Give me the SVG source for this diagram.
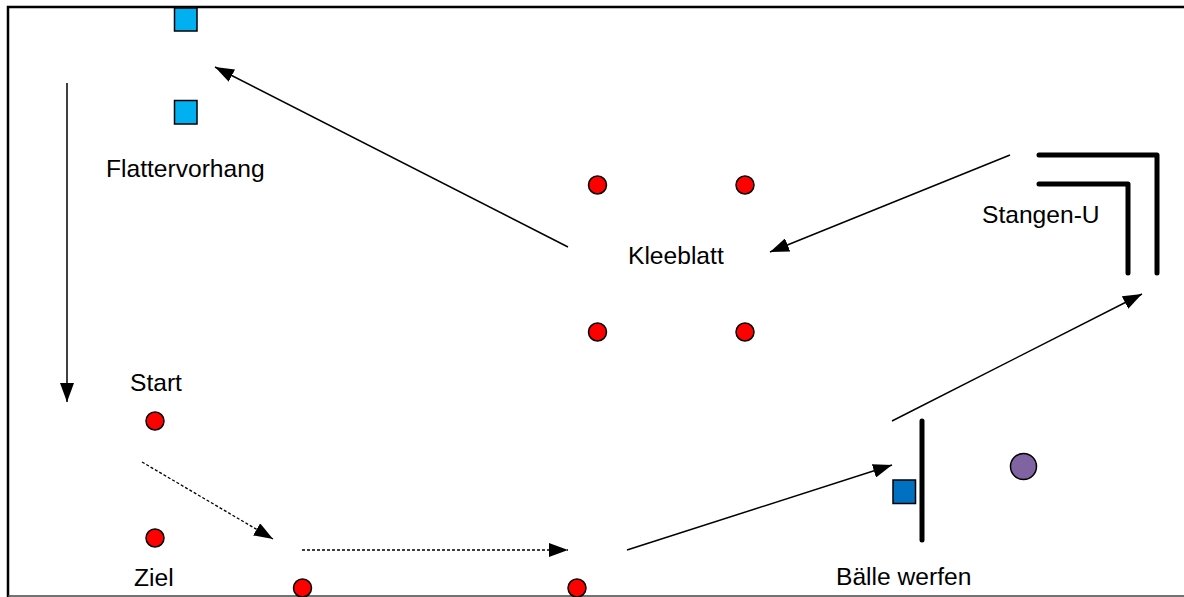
<svg xmlns="http://www.w3.org/2000/svg" width="1184" height="597" viewBox="0 0 1184 597">
<style>
text{font-family:"Liberation Sans",Arial,sans-serif;font-size:24.6px;fill:#000}
.red{fill:#FF0000;stroke:#000;stroke-width:1.5}
.lb{fill:#00B0F0;stroke:#000;stroke-width:1.5}
.db{fill:#0070C0;stroke:#000;stroke-width:1.5}
.bar{fill:none;stroke:#000;stroke-width:5;stroke-linecap:round;stroke-linejoin:round}
.arr{fill:none;stroke:#000;stroke-width:1.5;marker-end:url(#ah)}
.dot{fill:none;stroke:#000;stroke-width:1.3;stroke-dasharray:3 2;marker-end:url(#ah)}
</style>
<defs>
<marker id="ah" markerUnits="userSpaceOnUse" markerWidth="20" markerHeight="14" viewBox="0 0 20 14" refX="19" refY="7" orient="auto">
<path d="M0,0 L19,7 L0,14 Z" fill="#000"/>
</marker>
</defs>
<rect x="0" y="0" width="1184" height="597" fill="#fff"/>
<path d="M8,597 L8,7 L1184,7" fill="none" stroke="#000" stroke-width="2.5"/>
<line x1="8" y1="596" x2="1184" y2="596" stroke="#444" stroke-width="1.5"/>
<g id="connectors">
<line class="arr" x1="568" y1="247" x2="215" y2="67"/>
<line class="arr" x1="67" y1="83" x2="67" y2="402"/>
<line class="arr" x1="1010" y1="155" x2="770" y2="252"/>
<line class="arr" x1="892" y1="421" x2="1142" y2="294"/>
<line class="arr" x1="627" y1="550" x2="892" y2="465"/>
<line class="dot" x1="142" y1="462" x2="273" y2="539"/>
<line class="dot" x1="302" y1="550" x2="568" y2="550"/>
</g>
<g id="flattervorhang">
<rect class="lb" x="174.5" y="8" width="22.5" height="23"/>
<rect class="lb" x="174.5" y="100.5" width="22.5" height="23.5"/>
<text x="106" y="177">Flattervorhang</text>
</g>
<g id="start">
<text x="130" y="391">Start</text>
<circle class="red" cx="155" cy="421" r="9"/>
</g>
<g id="ziel">
<circle class="red" cx="155" cy="538" r="9"/>
<text x="134" y="586">Ziel</text>
</g>
<g id="bottom-cones">
<circle class="red" cx="302.5" cy="588" r="9"/>
<circle class="red" cx="577" cy="588" r="9"/>
</g>
<g id="kleeblatt">
<circle class="red" cx="597.5" cy="185" r="9"/>
<circle class="red" cx="745" cy="185" r="9"/>
<circle class="red" cx="597.5" cy="332" r="9"/>
<circle class="red" cx="745" cy="332" r="9"/>
<text x="628" y="264">Kleeblatt</text>
</g>
<g id="stangen-u">
<path class="bar" d="M1039,155 L1157,155 L1157,273"/>
<path class="bar" d="M1039,184 L1128,184 L1128,273"/>
<text x="982" y="223">Stangen-U</text>
</g>
<g id="baelle-werfen">
<line class="bar" x1="922" y1="421" x2="922" y2="540"/>
<rect class="db" x="893" y="480" width="22.5" height="23.5"/>
<circle cx="1023.5" cy="466.5" r="13" fill="#8064A2" stroke="#000" stroke-width="1.5"/>
<text x="836" y="585">Bälle werfen</text>
</g>
</svg>
